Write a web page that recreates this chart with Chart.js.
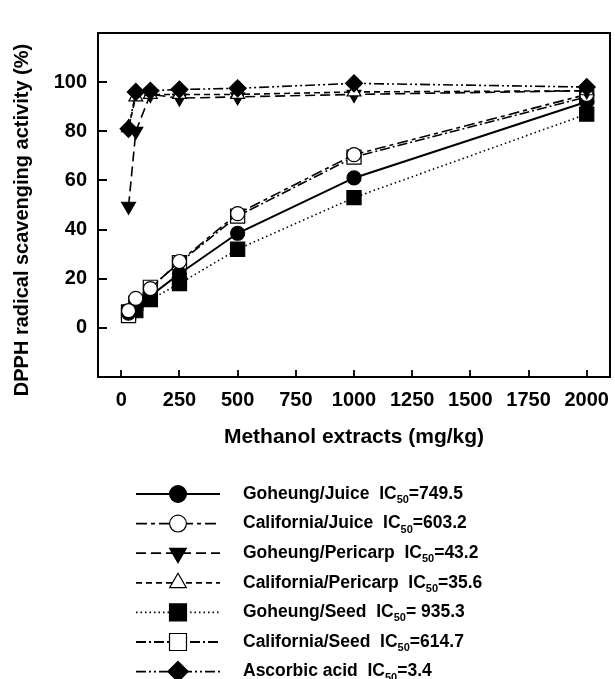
<!DOCTYPE html>
<html lang="en">
<head>
  <meta charset="UTF-8">
  <title>DPPH radical scavenging activity</title>
  <style>
    body { margin: 0; background: #fff; }
    #wrap { width: 615px; height: 679px; }
  </style>
</head>
<body>
<div id="wrap"><canvas id="dpphChart" width="615" height="679"></canvas></div>

<script src="https://cdn.jsdelivr.net/npm/chart.js"></script>
<script>
  // concentrations (mg/kg) and % scavenging per sample
  const concentrations = [31.25, 62.5, 125, 250, 500, 1000, 2000];
  const goheungJuice      = [6, 9, 13, 22, 38.5, 61, 92];
  const californiaJuice   = [7, 12, 16, 27, 46.5, 70.5, 95];
  const goheungPericarp   = [49.5, 80, 95, 93.5, 94, 95, 96.5];
  const californiaPericarp= [81.5, 94, 95, 95, 95, 96, 96.5];
  const goheungSeed       = [6.5, 7, 11.5, 18, 32, 53, 87];
  const californiaSeed    = [5, 10, 16.5, 26.5, 45.5, 69.5, 94];
  const ascorbicAcid      = [81, 96, 96.5, 97, 97.5, 99.5, 98];

  const seriesNames = ['Goheung/Juice', 'California/Juice', 'Goheung/Pericarp', 'California/Pericarp',
                       'Goheung/Seed', 'California/Seed', 'Ascorbic acid'];
  const ic50Labels = ['=749.5', '=603.2', '=43.2', '=35.6', '= 935.3', '=614.7', '=3.4'];

  const xTicks = [0, 250, 500, 750, 1000, 1250, 1500, 1750, 2000];
  const yTicks = [0, 20, 40, 60, 80, 100];
  const yTitle = 'DPPH radical scavenging activity (%)';

  const FONT = '"Liberation Sans", Arial, sans-serif';

  function toPoints(values) {
    return values.map((v, i) => ({ x: concentrations[i], y: v }));
  }

  function series(label, values, style, order) {
    return Object.assign({
      label: label,
      data: toPoints(values),
      borderColor: '#000',
      pointBorderColor: '#000',
      pointBorderWidth: 1.2,
      borderWidth: 1.6,
      tension: 0,
      fill: false,
      order: order
    }, style);
  }

  const datasets = [
    series(seriesNames[0], goheungJuice, { borderDash: [], pointStyle: 'circle', pointRadius: 7, pointBackgroundColor: '#000', borderWidth: 2 }, 4),
    series(seriesNames[1], californiaJuice, { borderDash: [11, 4, 4, 4], pointStyle: 'circle', pointRadius: 7, pointBackgroundColor: '#fff' }, 3),
    series(seriesNames[2], goheungPericarp, { borderDash: [10, 5], pointStyle: 'triangle', pointRotation: 180, pointRadius: 8, pointBackgroundColor: '#000' }, 2),
    series(seriesNames[3], californiaPericarp, { borderDash: [6, 4], pointStyle: 'triangle', pointRadius: 8, pointBackgroundColor: '#fff' }, 1),
    series(seriesNames[4], goheungSeed, { borderDash: [1.5, 3], pointStyle: 'rect', pointRadius: 10, pointBackgroundColor: '#000' }, 6),
    series(seriesNames[5], californiaSeed, { borderDash: [10, 3, 2, 3], pointStyle: 'rect', pointRadius: 10, pointBackgroundColor: '#fff' }, 5),
    series(seriesNames[6], ascorbicAcid, { borderDash: [10, 3, 2, 3, 2, 3], pointStyle: 'rectRot', pointRadius: 8.5, pointBackgroundColor: '#000' }, 0)
  ];

  function drawMarker(ctx, ds, x, y, scale) {
    const r = ds.pointRadius * scale;
    ctx.save();
    ctx.setLineDash([]);
    ctx.fillStyle = ds.pointBackgroundColor;
    ctx.strokeStyle = '#000';
    ctx.lineWidth = 1.2;
    ctx.beginPath();
    if (ds.pointStyle === 'circle') {
      ctx.arc(x, y, r, 0, Math.PI * 2);
    } else if (ds.pointStyle === 'rect') {
      const h = r * Math.SQRT1_2;
      ctx.rect(x - h, y - h, 2 * h, 2 * h);
    } else if (ds.pointStyle === 'rectRot') {
      ctx.moveTo(x, y - r); ctx.lineTo(x + r, y); ctx.lineTo(x, y + r); ctx.lineTo(x - r, y); ctx.closePath();
    } else if (ds.pointStyle === 'triangle') {
      const s = ds.pointRotation === 180 ? -1 : 1;
      ctx.moveTo(x, y - s * r);
      ctx.lineTo(x + r * 0.866, y + s * r * 0.5);
      ctx.lineTo(x - r * 0.866, y + s * r * 0.5);
      ctx.closePath();
    }
    ctx.fill();
    ctx.stroke();
    ctx.restore();
  }

  // frame, inward ticks, y title and the legend under the plot
  const framePlugin = {
    id: 'frameAndLegend',
    afterDraw(chart) {
      const ctx = chart.ctx;
      const a = chart.chartArea;
      const xs = chart.scales.x, ys = chart.scales.y;
      ctx.save();
      ctx.strokeStyle = '#000';
      ctx.lineWidth = 2;
      ctx.strokeRect(a.left, a.top, a.right - a.left, a.bottom - a.top);
      ctx.lineWidth = 1.8;
      ctx.beginPath();
      xTicks.forEach(v => {
        const px = Math.round(xs.getPixelForValue(v));
        ctx.moveTo(px, a.bottom); ctx.lineTo(px, a.bottom - 7);
      });
      yTicks.forEach(v => {
        const py = Math.round(ys.getPixelForValue(v));
        ctx.moveTo(a.left, py); ctx.lineTo(a.left + 9, py);
      });
      ctx.stroke();

      // y axis title, a bit below the axis centre as in the original
      ctx.save();
      ctx.translate(22, 220);
      ctx.rotate(-Math.PI / 2);
      ctx.fillStyle = '#000';
      ctx.font = 'bold 20px ' + FONT;
      ctx.textAlign = 'center';
      ctx.textBaseline = 'middle';
      ctx.fillText(yTitle, 0, 0);
      ctx.restore();

      // legend
      const top = 494, step = 29.6;
      datasets.forEach((ds, i) => {
        const y = top + i * step;
        ctx.save();
        ctx.lineWidth = 1.8;
        ctx.setLineDash(ds.borderDash);
        ctx.beginPath();
        ctx.moveTo(136, y); ctx.lineTo(220, y);
        ctx.stroke();
        ctx.restore();
        drawMarker(ctx, ds, 178, y, 1.2);

        ctx.fillStyle = '#000';
        ctx.textBaseline = 'middle';
        ctx.textAlign = 'left';
        ctx.font = 'bold 17.5px ' + FONT;
        let tx = 243;
        const main = seriesNames[i] + '  IC';
        ctx.fillText(main, tx, y);
        tx += ctx.measureText(main).width;
        ctx.font = 'bold 11px ' + FONT;
        ctx.fillText('50', tx, y + 6);
        tx += ctx.measureText('50').width;
        ctx.font = 'bold 17.5px ' + FONT;
        ctx.fillText(ic50Labels[i], tx, y);
      });
      ctx.restore();
    }
  };

  new Chart(document.getElementById('dpphChart').getContext('2d'), {
    type: 'line',
    data: { datasets: datasets },
    options: {
      responsive: false,
      animation: false,
      layout: { autoPadding: false, padding: { top: 33, right: 5, bottom: 219, left: 0 } },
      plugins: { legend: { display: false }, tooltip: { enabled: false } },
      scales: {
        x: {
          type: 'linear',
          min: -100,
          max: 2100,
          grid: { display: false, drawTicks: false },
          border: { display: false },
          afterBuildTicks: s => { s.ticks = xTicks.map(v => ({ value: v })); },
          afterFit: s => { s.height = 83; s.paddingLeft = 0; s.paddingRight = 0; },
          ticks: { color: '#000', font: { family: FONT, size: 20, weight: 'bold' }, padding: 11,
                   maxRotation: 0, autoSkip: false, callback: v => String(v) },
          title: { display: true, text: 'Methanol extracts (mg/kg)', color: '#000',
                   font: { family: FONT, size: 21, weight: 'bold' }, padding: { top: 0, bottom: 10 } }
        },
        y: {
          type: 'linear',
          min: -20,
          max: 120,
          grid: { display: false, drawTicks: false },
          border: { display: false },
          afterBuildTicks: s => { s.ticks = yTicks.map(v => ({ value: v })); },
          afterFit: s => { s.width = 98; s.paddingTop = 0; s.paddingBottom = 0; },
          ticks: { color: '#000', font: { family: FONT, size: 20, weight: 'bold' }, padding: 11 }
        }
      }
    },
    plugins: [framePlugin]
  });
</script>
</body>
</html>
